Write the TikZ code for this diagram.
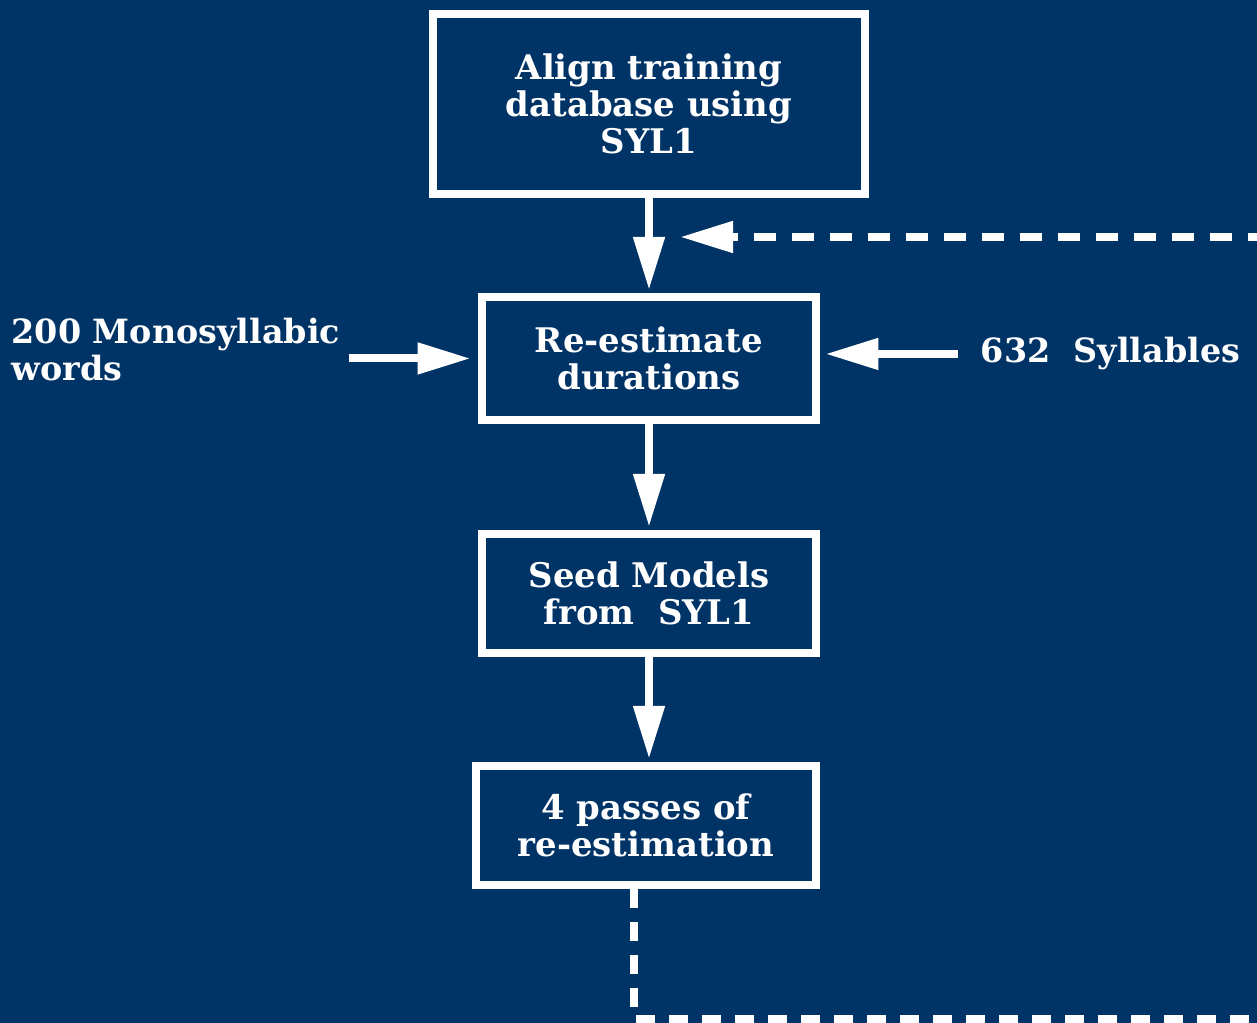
\documentclass[tikz,border=0pt]{standalone}
\usepackage{fontspec}
\setmainfont{DejaVu Serif}
\usepackage{xcolor}
\usetikzlibrary{arrows.meta,positioning}
\definecolor{navy}{HTML}{003366}

\begin{document}
\begin{tikzpicture}[
  x=0.02cm, y=-0.02cm,
  box/.style={draw=white, line width=0.16cm, text=white, align=center,
    font=\fontsize{19.3}{21}\selectfont\bfseries},
  lbl/.style={text=white, inner sep=0pt,
    font=\fontsize{19}{21}\selectfont\bfseries},
  arr/.style={-{Triangle[length=1.06cm, width=0.6cm]}, white, line width=0.16cm},
  fb/.style={white, line width=0.16cm, dash pattern=on 0.44cm off 0.32cm}
]
  \fill[navy] (0,0) rectangle (1257,1023);
  \useasboundingbox (0,0) rectangle (1257,1023);

  \node[box, minimum width=8.64cm, minimum height=3.6cm] (align) at (649,104)
    {Align training\\database using\\SYL1};
  \node[box, minimum width=6.7cm, minimum height=2.46cm, below=1.9cm of align] (reest)
    {Re-estimate\\durations};
  \node[box, minimum width=6.7cm, minimum height=2.38cm, below=2.12cm of reest] (seed)
    {Seed Models\\from\ \ SYL1};
  \node[box, minimum width=6.82cm, minimum height=2.38cm, below=2.1cm of seed,
    xshift=-0.06cm] (passes) {4 passes of\\re-estimation};

  \node[lbl, align=left, left=2.74cm of reest, yshift=0.17cm] (mono)
    {200 Monosyllabic\\words};
  \node[lbl, right=3.2cm of reest, yshift=0.09cm] (syl) {632\ \ Syllables};

  \draw[arr, shorten >=0.06cm] (align) -- (reest);
  \draw[arr, shorten >=0.06cm] (reest) -- (seed);
  \draw[arr, shorten >=0.06cm] (seed.south) -- (seed.south |- passes.north);
  \draw[arr, shorten >=0.14cm] ([xshift=0.16cm]mono.east |- reest.west) -- (reest.west);
  \draw[arr, shorten >=0.1cm] ([xshift=-0.44cm]syl.west) -- (reest.east |- syl.west);

  % feedback loop
  \coordinate (fbtip) at (680,237);
  \coordinate (fbin) at (1270,237);
  \coordinate (fbcorner) at (634,1019);
  \coordinate (fbout) at (1270,1019);
  \draw[arr, fb] (fbin) -- (fbtip);
  \draw[fb, dash pattern=on 0.38cm off 0.28cm]
    (passes.south -| fbcorner) -- (fbcorner) -- (fbout);
\end{tikzpicture}
\end{document}
